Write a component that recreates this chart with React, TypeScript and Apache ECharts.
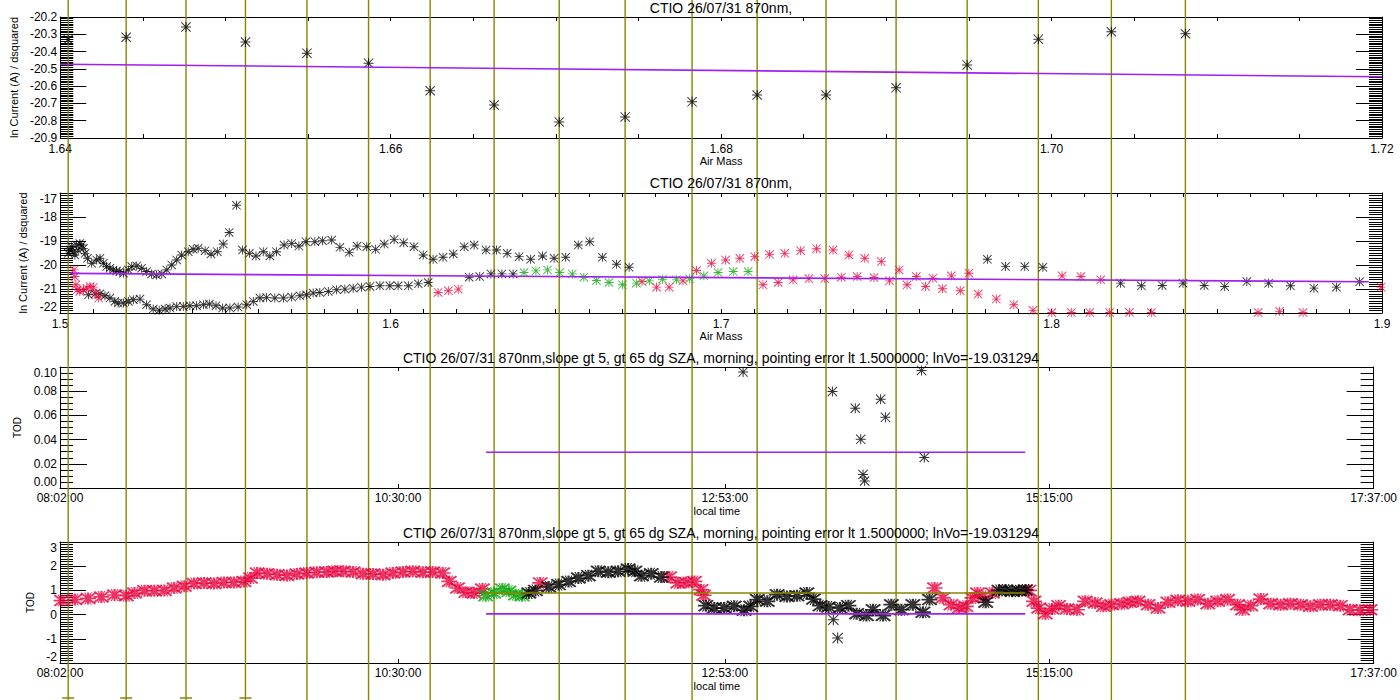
import React, { useEffect, useRef } from 'react';
import * as echarts from 'echarts';

// ---------- texts ----------
const TITLE_AM = 'CTIO 26/07/31 870nm,';
const TITLE_TOD = 'CTIO 26/07/31 870nm,slope gt 5, gt 65 dg SZA, morning, pointing error lt 1.5000000; lnVo=-19.031294';
const NAME_LNI = 'ln Current (A) / dsquared';
const NAME_AM = 'Air Mass';
const NAME_TOD = 'TOD';
const NAME_TIME = 'local time';

// ---------- panel 1 : ln I vs air mass (selected points) ----------
const p1Points: number[][] = [
  [1.64048, -20.33], [1.64399, -20.317], [1.64761, -20.258], [1.65121, -20.345], [1.65493, -20.409],
  [1.65866, -20.467], [1.66239, -20.627], [1.66626, -20.709], [1.6702, -20.807], [1.67419, -20.778],
  [1.67824, -20.691], [1.68218, -20.651], [1.68635, -20.651], [1.69059, -20.61], [1.69489, -20.477],
  [1.6992, -20.328], [1.70362, -20.285], [1.7081, -20.297],
];
const p1Fit: number[][] = [[1.64, -20.473], [1.72, -20.546]];
const CAPPED_LINES = 4;

// ---------- panel 2 : ln I vs air mass (all) ----------
const p2Black: number[][] = [
  [1.5025, -19.514], [1.503, -19.376], [1.5035, -19.238], [1.504, -19.445], [1.5045, -19.583], [1.505, -19.168],
  [1.5055, -19.376], [1.506, -19.099], [1.5066, -19.168], [1.5071, -19.307], [1.5076, -19.514],
  [1.5083, -19.721], [1.5096, -19.928], [1.5111, -19.79], [1.5121, -19.721], [1.5131, -19.928], [1.5141, -20.066],
  [1.5151, -20.135], [1.5161, -20.204], [1.5171, -20.246], [1.5181, -20.273], [1.5192, -20.342], [1.5207, -20.204],
  [1.5217, -20.066], [1.5232, -20.039], [1.5247, -20.135], [1.5262, -20.273], [1.5277, -20.37], [1.5292, -20.412],
  [1.5308, -20.37], [1.5323, -20.204], [1.5338, -19.997], [1.5353, -19.79], [1.5368, -19.583], [1.5388, -19.445],
  [1.5403, -19.348], [1.5418, -19.307], [1.5439, -19.403], [1.5457, -19.541], [1.5476, -19.445], [1.5494, -19.127],
  [1.5512, -18.644], [1.5534, -17.511], [1.5552, -19.376], [1.5573, -19.514], [1.5593, -19.624], [1.5615, -19.445],
  [1.5635, -19.624], [1.5655, -19.445], [1.5678, -19.168], [1.5701, -19.099], [1.5723, -19.21], [1.5744, -19.03],
  [1.5771, -19.03], [1.5794, -18.989], [1.5822, -18.961], [1.5847, -19.265], [1.5875, -19.472], [1.5899, -19.21],
  [1.5928, -19.238], [1.5955, -19.348], [1.5981, -19.127], [1.6011, -18.934], [1.604, -19.072], [1.6071, -19.238],
  [1.6099, -19.583], [1.6129, -19.762], [1.6159, -19.68], [1.619, -19.541], [1.6223, -19.238], [1.6253, -19.168],
  [1.6289, -19.376], [1.6321, -19.376], [1.6353, -19.514], [1.6389, -19.652], [1.6424, -19.762], [1.646, -19.624],
  [1.6495, -19.721], [1.653, -19.68], [1.6568, -19.168], [1.6603, -19.03], [1.6641, -19.68], [1.6684, -19.97],
  [1.6722, -20.094],
  [1.5086, -21.24], [1.5106, -21.213], [1.5121, -21.199], [1.5136, -21.282], [1.5151, -21.378], [1.5166, -21.516],
  [1.5176, -21.585], [1.5192, -21.585], [1.5207, -21.516], [1.5222, -21.447], [1.5242, -21.42], [1.5262, -21.655],
  [1.5282, -21.834], [1.53, -21.889], [1.5318, -21.834], [1.5333, -21.793], [1.5353, -21.724], [1.5373, -21.724],
  [1.5393, -21.696], [1.5413, -21.696], [1.5434, -21.655], [1.5452, -21.627], [1.5472, -21.696], [1.5492, -21.793],
  [1.5514, -21.793], [1.5539, -21.751], [1.5565, -21.655], [1.5585, -21.516], [1.5605, -21.378], [1.5625, -21.351],
  [1.565, -21.378], [1.5676, -21.378], [1.5701, -21.337], [1.5726, -21.282], [1.5746, -21.24], [1.5766, -21.171],
  [1.5786, -21.144], [1.5812, -21.102], [1.5837, -21.033], [1.5862, -21.006], [1.5887, -20.964], [1.5912, -20.923],
  [1.5938, -20.895], [1.5968, -20.867], [1.5998, -20.867], [1.6023, -20.867], [1.6054, -20.867], [1.6084, -20.785],
  [1.6114, -20.729], [1.6238, -20.508], [1.627, -20.481], [1.6304, -20.37], [1.6337, -20.37], [1.6371, -20.37],
  [1.7806, -19.762], [1.7861, -20.066], [1.7919, -20.066], [1.7974, -20.094], [1.8209, -20.757], [1.8272, -20.867],
  [1.8335, -20.853], [1.8398, -20.757], [1.8462, -20.853], [1.8524, -20.895], [1.8591, -20.688], [1.8657, -20.757],
  [1.8723, -20.867], [1.8794, -20.964], [1.8862, -20.923], [1.8932, -20.702],
];
const p2Red: number[][] = [
  [1.5042, -20.204], [1.5045, -20.481], [1.5048, -20.826], [1.5052, -21.033], [1.506, -21.102], [1.5071, -21.033],
  [1.5081, -20.964], [1.5091, -20.895], [1.5101, -20.923], [1.5109, -21.171], [1.5117, -21.378],
  [1.6144, -21.144], [1.6175, -21.075], [1.6205, -21.006],
  [1.6761, -20.688], [1.6805, -20.923], [1.6843, -20.923], [1.6885, -20.66], [1.6926, -20.232], [1.6971, -19.928],
  [1.7014, -19.79], [1.7057, -19.721], [1.7102, -19.652], [1.7147, -19.555], [1.7193, -19.514], [1.7241, -19.403],
  [1.7289, -19.32], [1.7339, -19.376], [1.7387, -19.583], [1.7435, -19.721], [1.7485, -19.859], [1.7539, -20.204],
  [1.7591, -20.481], [1.7641, -20.55], [1.7697, -20.453], [1.775, -20.342],
  [1.7127, -20.826], [1.7173, -20.729], [1.7218, -20.619], [1.7266, -20.563], [1.7314, -20.563], [1.7364, -20.508],
  [1.7412, -20.481], [1.7463, -20.522], [1.751, -20.66], [1.7563, -20.826], [1.7619, -20.895], [1.767, -20.992],
  [1.7724, -21.075], [1.7778, -21.213], [1.7833, -21.42], [1.7886, -21.655], [1.7944, -21.889], [1.8001, -21.98],
  [1.806, -21.98], [1.8116, -21.98], [1.8176, -21.98], [1.8236, -21.972], [1.8302, -21.98], [1.8625, -21.98],
  [1.869, -21.931], [1.8761, -21.98],
  [1.8032, -20.453], [1.8089, -20.481], [1.8149, -20.619], [1.8997, -20.923],
];
const p2Green: number[][] = [
  [1.6404, -20.315], [1.644, -20.246], [1.6475, -20.204], [1.6512, -20.315], [1.655, -20.37], [1.6585, -20.508],
  [1.6623, -20.646], [1.6661, -20.729], [1.6702, -20.826], [1.6744, -20.757], [1.6783, -20.66], [1.6823, -20.591],
  [1.6865, -20.619], [1.6905, -20.577], [1.6948, -20.453], [1.6991, -20.315], [1.7037, -20.273], [1.7082, -20.273],
];
const p2Fit: number[][] = [[1.503, -20.35], [1.896, -20.7]];

// ---------- panels 3 & 4 : TOD vs local time (minutes after midnight) ----------
const timeTicks = [482, 630, 773, 915, 1057];
const p3Black: number[][] = [
  [781.0, 0.0958], [820.1, 0.0798], [830.1, 0.0659], [832.5, 0.0402], [833.5, 0.0111],
  [834.2, 0.0058], [841.2, 0.0734], [843.3, 0.0584], [859.1, 0.0972], [860.3, 0.0252],
];
const p3Mean: number[][] = [[668.5, 0.0295], [904.5, 0.0295]];

const p4Red: number[][] = [
  [482.7, 0.58], [488.5, 0.62], [494.3, 0.67], [500.1, 0.73], [505.9, 0.81], [511.0, 0.78], [514.6, 0.89],
  [519.0, 0.99], [523.3, 0.99], [527.7, 1.0], [532.0, 1.1], [536.4, 1.17], [540.7, 1.28], [545.1, 1.31],
  [549.4, 1.28], [553.8, 1.33], [558.1, 1.33], [562.5, 1.37], [565.4, 1.51], [568.3, 1.72], [572.6, 1.69],
  [577.0, 1.65], [581.3, 1.62], [585.7, 1.68], [590.0, 1.72], [594.4, 1.75], [598.7, 1.76], [602.3, 1.79],
  [606.0, 1.79], [610.3, 1.76], [614.7, 1.69], [619.0, 1.68], [623.4, 1.65], [627.7, 1.72], [632.1, 1.76],
  [636.4, 1.79], [640.8, 1.75], [645.1, 1.76], [649.5, 1.72], [652.4, 1.37], [656.0, 1.1], [659.6, 0.92],
  [663.2, 0.89], [666.9, 1.06],
  [692.2, 1.31],
  [748.8, 1.55], [752.4, 1.31], [756.0, 1.33], [759.7, 1.37], [762.6, 1.03], [763.7, 0.8],
  [864.8, 1.1], [868.4, 0.69], [872.0, 0.41], [875.6, 0.27], [878.5, 0.34], [881.4, 0.69], [883.6, 0.89],
  [885.8, 0.75], [890.1, 0.89],
  [906.1, 1.0], [908.3, 0.55], [910.4, 0.27], [913.3, 0.04], [916.2, 0.23], [919.1, 0.37], [922.8, 0.23],
  [927.1, 0.2], [930.7, 0.55], [935.1, 0.48], [938.7, 0.34], [942.3, 0.41], [946.7, 0.45], [950.3, 0.51],
  [953.9, 0.55], [958.3, 0.41], [962.6, 0.27], [967.0, 0.51], [971.3, 0.59], [975.7, 0.55], [980.0, 0.62],
  [984.4, 0.45], [988.7, 0.55], [993.1, 0.62], [997.4, 0.41], [999.6, 0.2], [1003.2, 0.37], [1007.6, 0.64],
  [1011.9, 0.45], [1016.3, 0.41], [1020.6, 0.45], [1025.0, 0.41], [1029.3, 0.34], [1033.7, 0.41], [1038.0, 0.41],
  [1042.4, 0.37], [1046.7, 0.2], [1051.1, 0.18], [1055.4, 0.2],
];
const p4Green: number[][] = [
  [668.3, 0.78], [671.9, 0.89], [675.6, 1.06], [678.5, 0.96], [681.4, 0.82], [684.3, 0.78],
];
const p4Black: number[][] = [
  [687.2, 0.89], [690.1, 1.0], [695.9, 1.14], [700.2, 1.24], [704.6, 1.37], [708.9, 1.51], [713.3, 1.61],
  [717.6, 1.79], [722.0, 1.75], [726.3, 1.79], [730.7, 1.88], [733.6, 1.79], [736.5, 1.61], [740.8, 1.69],
  [745.2, 1.55],
  [764.7, 0.37], [768.4, 0.27], [772.7, 0.27], [777.1, 0.34], [781.4, 0.18], [784.3, 0.34], [787.2, 0.62],
  [791.6, 0.55], [795.9, 0.82], [800.2, 0.75], [804.6, 0.78], [808.9, 0.89], [811.8, 0.64], [814.7, 0.37],
  [818.4, 0.31], [823.4, 0.27], [827.1, 0.37], [830.7, 0.04], [835.0, -0.04],
  [837.9, 0.2], [842.3, -0.04], [845.9, 0.41], [850.3, 0.2], [855.3, 0.41], [859.7, 0.1], [862.6, 0.62],
  [887.2, 0.51], [893.0, 1.0], [895.9, 1.02], [898.8, 0.96], [901.7, 0.99], [904.6, 1.02],
];
const p4BlackIsolated: number[][] = [[820.5, -0.21], [822.4, -0.97]];
const p4Mean: number[][] = [[668.5, 0.0295], [904.5, 0.0295]];
const p4Level: number[][] = [[668.5, 0.893], [904.5, 0.893]];

// ---------- styles ----------
const BLACK = '#000000';
const RED = '#e8003c';
const GREEN = '#10a810';
const PURPLE = '#a020f0';
const OLIVE = '#868600';
const FONT = '"Liberation Sans", Arial, sans-serif';
const STAR = 'path://M0 45H100V55H0Z M45 0H55V100H45Z M7 0L100 93L93 100L0 7Z M93 0L100 7L7 100L0 93Z';
const STAR_BOLD = 'path://M0 43H100V57H0Z M43 0H57V100H43Z M10 0L100 90L90 100L0 10Z M90 0L100 10L10 100L0 90Z M25 0L33 0L75 100L67 100Z M67 0L75 0L33 100L25 100Z';

const GRIDS = [
  { left: 60, right: 18, top: 17, height: 121 },
  { left: 60, right: 18, top: 193, height: 120 },
  { left: 60, right: 18, top: 367, height: 121 },
  { left: 60, right: 18, top: 542, height: 121 },
];

const isMult = (v: number, step: number) => Math.abs(v / step - Math.round(v / step)) < 1e-6;
const fmtTime = (v: number) => {
  const m = Math.round(v);
  const h = Math.floor(m / 60);
  const mm = m % 60;
  return `${String(h).padStart(2, '0')}:${String(mm).padStart(2, '0')}:00`;
};

const axisLine = { show: true, onZero: false, lineStyle: { color: BLACK, width: 1 } };
const labelText = { color: BLACK, fontFamily: FONT, fontSize: 12 };
const nameText = { color: BLACK, fontFamily: FONT, fontSize: 11 };

function xPair(gridIndex: number, scale: any, tick: any, label: any, name: string, margin: number) {
  const common = { type: 'value', gridIndex, ...scale, axisLine, splitLine: { show: false } };
  return [
    {
      ...common, position: 'bottom',
      axisTick: { inside: true, length: 4, lineStyle: { color: BLACK }, ...tick },
      axisLabel: { ...labelText, margin, ...label },
      name, nameLocation: 'middle', nameGap: 17, nameTextStyle: nameText,
    },
    {
      ...common, position: 'top',
      axisTick: { inside: true, length: 4, lineStyle: { color: BLACK }, ...tick },
      axisLabel: { show: false },
    },
  ];
}

function yPair(gridIndex: number, min: number, max: number, interval: number, minor: number, major: number,
  fmt: (v: number) => string, name: string, nameGap: number, nameSize: number, tuckEnds: boolean) {
  const common = {
    type: 'value', gridIndex, min, max, interval, axisLine, splitLine: { show: false },
    axisTick: { inside: true, length: major, lineStyle: { color: BLACK } },
    minorTick: { show: true, splitNumber: minor, length: 13, lineStyle: { color: BLACK } },
    minorSplitLine: { show: false },
  };
  const ends = tuckEnds ? { verticalAlignMinLabel: 'bottom', verticalAlignMaxLabel: 'top' } : {};
  return [
    {
      ...common, position: 'left',
      axisLabel: {
        ...labelText, margin: 3, formatter: fmt, showMinLabel: true, showMaxLabel: true, ...ends,
      },
      name, nameLocation: 'middle', nameRotate: 90, nameGap,
      nameTextStyle: { ...nameText, fontSize: nameSize },
    },
    { ...common, position: 'right', axisLabel: { show: false } },
  ];
}

const star = (data: number[][], axis: number, color: string, size: any, symbol = STAR) => ({
  type: 'scatter', xAxisIndex: axis, yAxisIndex: axis, data, symbol, symbolSize: size,
  itemStyle: { color }, z: 3, silent: true,
});
const seg = (data: number[][], axis: number, color: string, width: number) => ({
  type: 'line', xAxisIndex: axis, yAxisIndex: axis, data, symbol: 'none', showSymbol: false,
  lineStyle: { color, width }, z: 4, silent: true,
});

const titleText = (text: string, y: number) => ({
  type: 'text', x: 721, y, z: 10, silent: true,
  style: {
    text, fill: BLACK, font: `14px ${FONT}`,
    align: 'center', verticalAlign: 'middle', textAlign: 'center', textVerticalAlign: 'middle',
  },
});

export default function App() {
  const ref = useRef<HTMLDivElement>(null);

  useEffect(() => {
    document.body.style.margin = '0';
    if (!ref.current) return;
    const chart = echarts.init(ref.current, undefined, { renderer: 'svg' });

    const xAxis = [
      ...xPair(0, { min: 1.64, max: 1.72, interval: 0.005 }, {},
        { formatter: (v: number) => (isMult(v, 0.02) ? v.toFixed(2) : '') }, NAME_AM, 5),
      ...xPair(1, { min: 1.5, max: 1.9, interval: 0.01 }, {},
        { formatter: (v: number) => (isMult(v, 0.1) ? v.toFixed(1) : '') }, NAME_AM, 5),
      ...xPair(2, { min: 482, max: 1057 }, { customValues: timeTicks },
        { customValues: timeTicks, formatter: fmtTime }, NAME_TIME, 4),
      ...xPair(3, { min: 482, max: 1057 }, { customValues: timeTicks },
        { customValues: timeTicks, formatter: fmtTime }, NAME_TIME, 4),
    ];
    const yAxis = [
      ...yPair(0, -20.9, -20.2, 0.1, 10, 26, (v) => v.toFixed(1), NAME_LNI, 39, 11, false),
      ...yPair(1, -22, -17, 1, 10, 26, (v) => v.toFixed(0), NAME_LNI, 29, 11, true),
      ...yPair(2, 0, 0.1, 0.02, 4, 27, (v) => v.toFixed(2), NAME_TOD, 28, 10, true),
      ...yPair(3, -2, 3, 1, 10, 26, (v) => v.toFixed(0), NAME_TOD, 22, 10, true),
    ];

    const vlines = {
      type: 'custom', xAxisIndex: 0, yAxisIndex: 0, data: p1Points, clip: false, silent: true, z: 1,
      renderItem: (params: any, api: any) => {
        const p = api.coord([api.value(0), api.value(1)]);
        const h = api.getHeight();
        const children: any[] = [
          { type: 'line', shape: { x1: p[0], y1: 0, x2: p[0], y2: h }, style: { stroke: OLIVE, lineWidth: 1.4 } },
        ];
        if (params.dataIndex < CAPPED_LINES) {
          children.push({ type: 'line', shape: { x1: p[0] - 6, y1: h - 2, x2: p[0] + 6, y2: h - 2 },
            style: { stroke: OLIVE, lineWidth: 1.5 } });
        }
        return { type: 'group', children };
      },
    };

    chart.setOption({
      animation: false,
      backgroundColor: '#ffffff',
      grid: GRIDS,
      xAxis,
      yAxis,
      graphic: [
        titleText(TITLE_AM, 8),
        titleText(TITLE_AM, 183),
        titleText(TITLE_TOD, 358),
        titleText(TITLE_TOD, 533),
      ],
      series: [
        vlines,
        star(p1Points, 0, BLACK, 10),
        seg(p1Fit, 0, PURPLE, 1.6),
        star(p2Black, 2, BLACK, 9),
        star(p2Red, 2, RED, 9),
        star(p2Green, 2, GREEN, 9),
        seg(p2Fit, 2, PURPLE, 1.6),
        star(p3Black, 4, BLACK, 10),
        seg(p3Mean, 4, PURPLE, 1.6),
        star(p4Red, 6, RED, [16, 12], STAR_BOLD),
        star(p4Green, 6, GREEN, [16, 12], STAR_BOLD),
        star(p4Black, 6, BLACK, [16, 12], STAR_BOLD),
        star(p4BlackIsolated, 6, BLACK, 11),
        seg(p4Level, 6, OLIVE, 1.6),
        seg(p4Mean, 6, PURPLE, 1.6),
      ],
    });
    return () => chart.dispose();
  }, []);

  return <div ref={ref} style={{ width: 1400, height: 700 }} />;
}
